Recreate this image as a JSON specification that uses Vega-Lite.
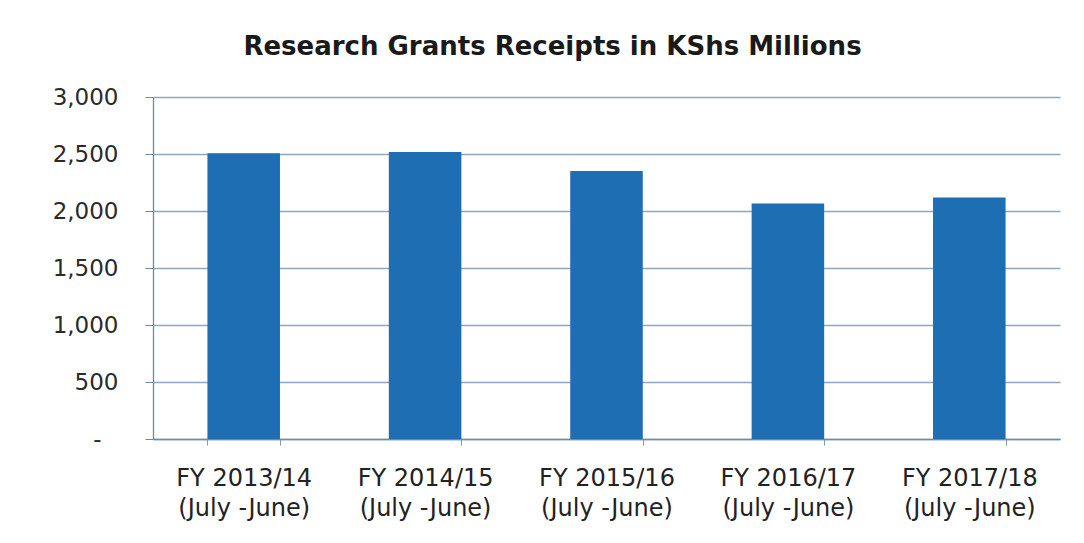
{
  "$schema": "https://vega.github.io/schema/vega-lite/v6.json",
  "autosize": "none",
  "width": 907,
  "height": 342,
  "padding": {"left": 153, "top": 97, "right": 24, "bottom": 104},
  "background": "white",
  "title": {
    "text": "Research Grants Receipts in KShs Millions",
    "font": "DejaVu Sans",
    "fontSize": 26,
    "fontWeight": "bold",
    "color": "#1a1a1a",
    "anchor": "middle",
    "baseline": "alphabetic",
    "offset": 5,
    "dx": -54
  },
  "data": {
    "values": [
      {"year": "FY 2013/14|(July -June)", "value": 2506},
      {"year": "FY 2014/15|(July -June)", "value": 2518},
      {"year": "FY 2015/16|(July -June)", "value": 2350},
      {"year": "FY 2016/17|(July -June)", "value": 2066},
      {"year": "FY 2017/18|(July -June)", "value": 2119}
    ]
  },
  "mark": {"type": "bar", "color": "#1e6eb4"},
  "encoding": {
    "x": {
      "field": "year",
      "type": "nominal",
      "sort": null,
      "title": null,
      "scale": {"paddingInner": 0.6, "paddingOuter": 0.3},
      "axis": {
        "labelExpr": "split(datum.label, '|')",
        "labelAngle": 0,
        "labelFont": "DejaVu Sans",
        "labelFontSize": 24,
        "labelLineHeight": 30,
        "labelColor": "#222222",
        "labelPadding": 21,
        "tickBand": "extent",
        "tickSize": 6,
        "tickColor": "#7f98b0",
        "domainColor": "#6f8aa5",
        "domainWidth": 1.3
      }
    },
    "y": {
      "field": "value",
      "type": "quantitative",
      "title": null,
      "scale": {"domain": [0, 3000], "nice": false},
      "axis": {
        "values": [0, 500, 1000, 1500, 2000, 2500, 3000],
        "labelExpr": "datum.value == 0 ? '-' : format(datum.value, ',')",
        "labelFont": "DejaVu Sans",
        "labelFontSize": 23,
        "labelColor": "#2a2a2a",
        "labelPadding": {"condition": {"test": "datum.value == 0", "value": 44}, "value": 27},
        "tickSize": 8,
        "tickColor": "#6f8aa5",
        "domain": true,
        "domainColor": "#6f8aa5",
        "domainWidth": 1.3,
        "grid": true,
        "gridColor": "#8fa6bc",
        "gridWidth": 1.4
      }
    }
  },
  "config": {
    "view": {"stroke": null}
  }
}
